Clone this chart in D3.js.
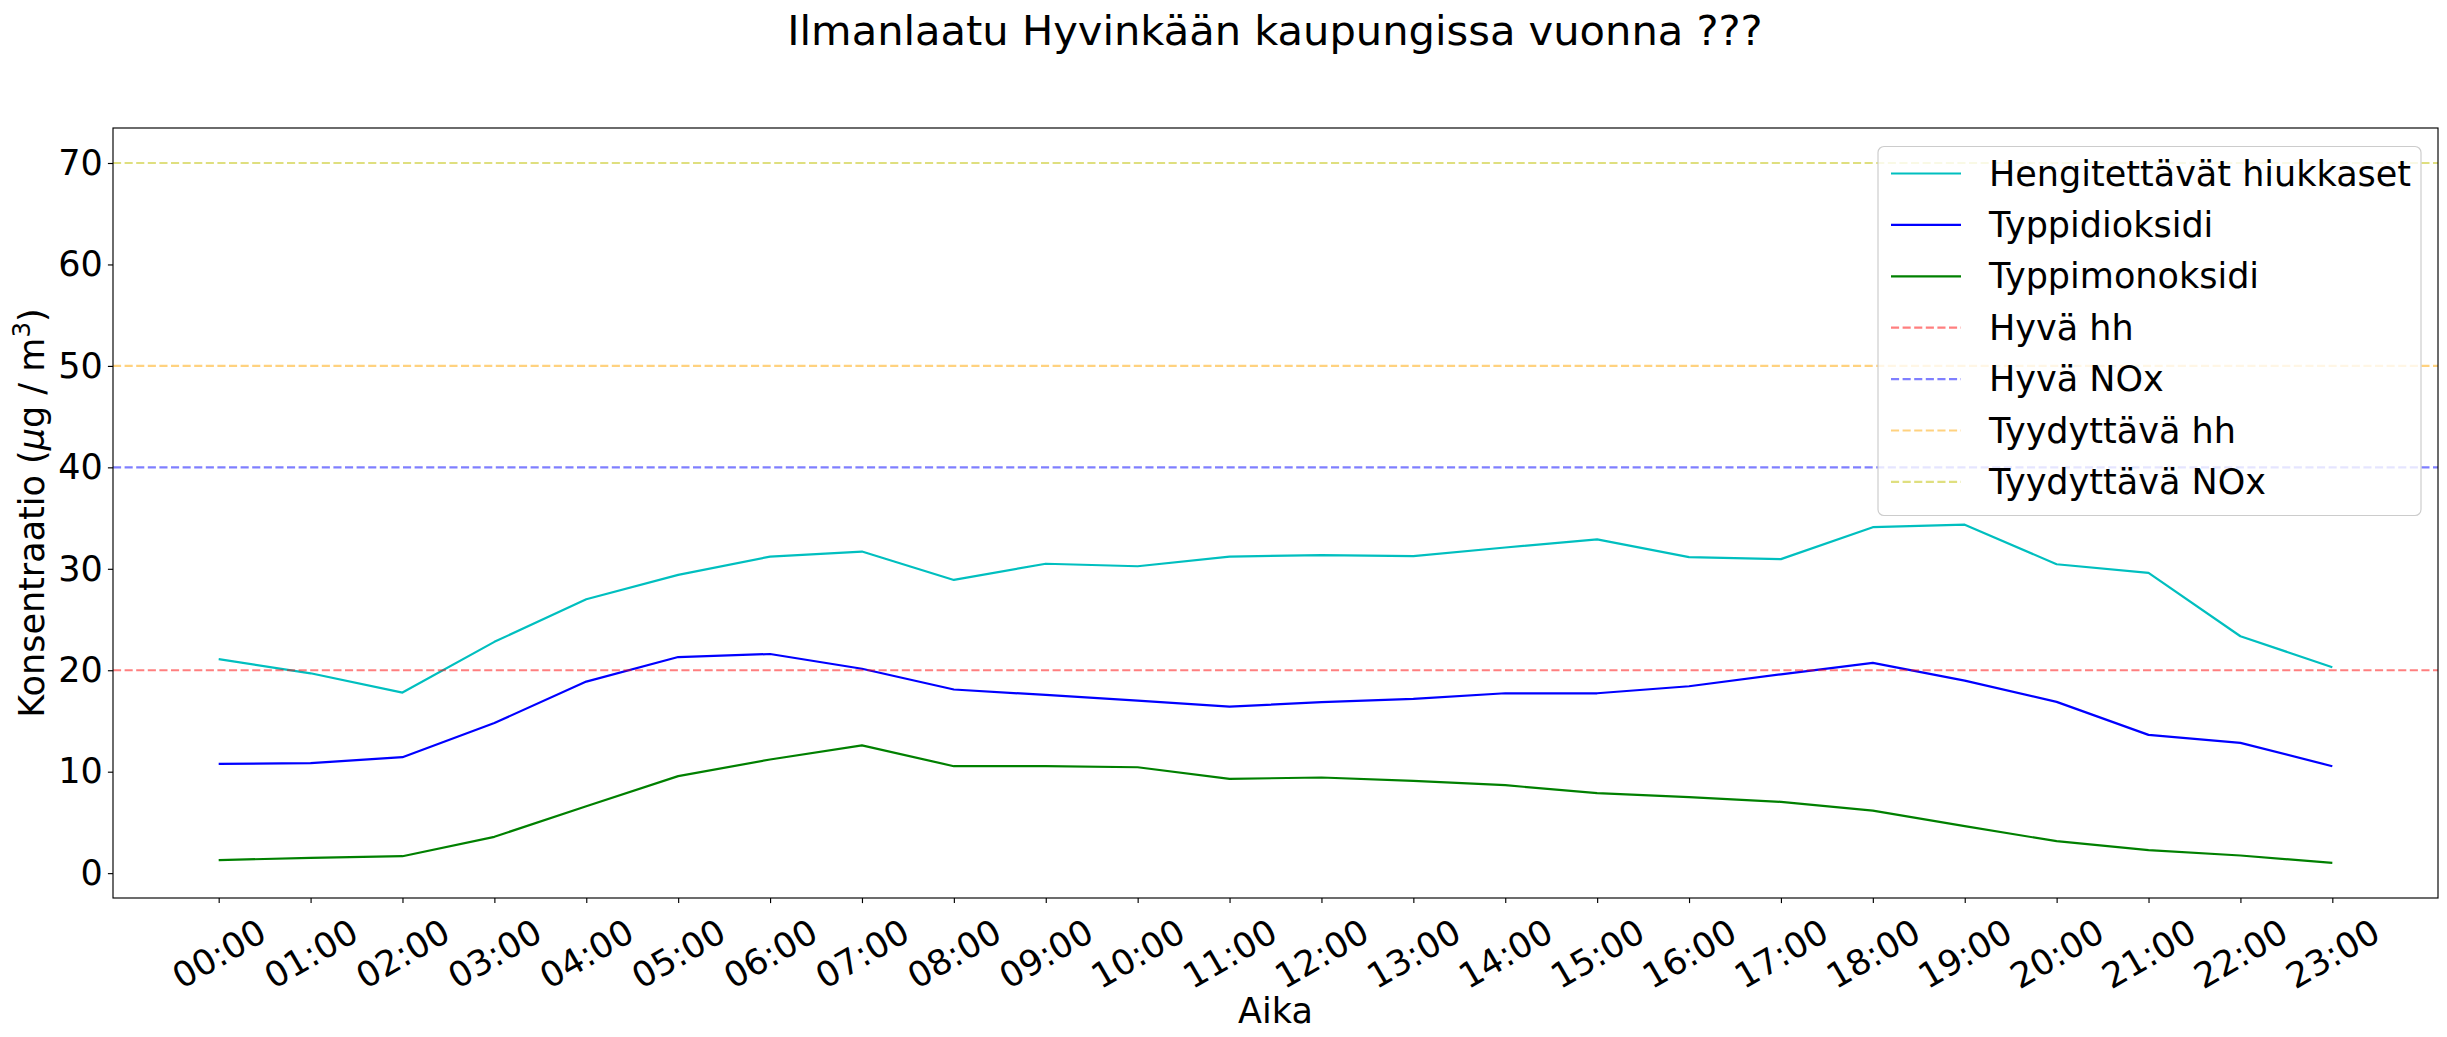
<!doctype html>
<html lang="fi">
<head>
<meta charset="utf-8">
<script src="https://d3js.org/d3.v7.min.js"></script>
<style>
  body { margin: 0; background: #fff; }
  svg text { font-family: "DejaVu Sans", sans-serif; fill: #000; }
</style>
</head>
<body>
<div id="chart"></div>
<script>

// tuntien nimet x-akselille
var hours = ["00:00", "01:00", "02:00", "03:00", "04:00", "05:00", "06:00", "07:00",
             "08:00", "09:00", "10:00", "11:00", "12:00", "13:00", "14:00", "15:00",
             "16:00", "17:00", "18:00", "19:00", "20:00", "21:00", "22:00", "23:00"];

// mittaukset (ug / m3), luettu kuvasta
var hiukkaset = [21.1, 19.7, 17.8, 22.8, 27.0, 29.4, 31.2, 31.7, 28.9, 30.5, 30.25, 31.2,
                 31.35, 31.25, 32.1, 32.9, 31.15, 30.95, 34.1, 34.35, 30.45, 29.6, 23.35, 20.3];
var typpidioksidi = [10.77, 10.84, 11.43, 14.8, 18.88, 21.3, 21.6, 20.15, 18.1, 17.57, 17.0, 16.42,
                     16.85, 17.18, 17.73, 17.73, 18.42, 19.6, 20.72, 18.98, 16.88, 13.63, 12.84, 10.54];
var typpimonoksidi = [1.28, 1.51, 1.67, 3.58, 6.6, 9.56, 11.2, 12.6, 10.54, 10.54, 10.44, 9.29,
                      9.43, 9.1, 8.67, 7.88, 7.49, 7.03, 6.17, 4.63, 3.15, 2.27, 1.74, 1.02];

var seriesNames = ["Hengitettävät hiukkaset", "Typpidioksidi", "Typpimonoksidi"];

// raja-arvot
var limitNames = ["Hyvä hh", "Hyvä NOx", "Tyydyttävä hh", "Tyydyttävä NOx"];
var limitValues = [20, 40, 50, 70];

var yTicks = [0, 10, 20, 30, 40, 50, 60, 70];

// tyylit
var seriesColors = ["#00bfbf", "#0000ff", "#008000"];
var limitColors = ["#ff0000", "#0000ff", "#ffa500", "#bfbf00"];

var W = 2447, H = 1037;
var margin = {top: 128, right: 9, bottom: 139, left: 113};
var fs = 35;        // akselien tekstit ja selite
var tick = 5.1, pad = 5.1;
var dash = "8.1,3.5";

var svg = d3.select("#chart").append("svg")
  .attr("width", W).attr("height", H);

var x = d3.scaleLinear().domain([-1.15, 24.15]).range([margin.left, W - margin.right]);
var y = d3.scaleLinear().domain([-2.45, 73.45]).range([H - margin.bottom, margin.top]);

// otsikko
svg.append("text")
  .attr("x", 1275).attr("y", 45)
  .attr("text-anchor", "middle")
  .style("font-size", "41.6px")
  .text("Ilmanlaatu Hyvinkään kaupungissa vuonna ???");

var plot = svg.append("g");

// viivat
var line = d3.line().x(function(d, i) { return x(i); }).y(function(d) { return y(d); });
[hiukkaset, typpidioksidi, typpimonoksidi].forEach(function(s, k) {
  plot.append("path")
    .datum(s)
    .attr("d", line)
    .attr("fill", "none")
    .attr("stroke", seriesColors[k])
    .attr("stroke-width", 2.2)
    .attr("stroke-linejoin", "round");
});

// vaakaviivat
limitValues.forEach(function(v, k) {
  plot.append("line")
    .attr("x1", x.range()[0]).attr("x2", x.range()[1])
    .attr("y1", y(v)).attr("y2", y(v))
    .attr("stroke", limitColors[k])
    .attr("stroke-opacity", 0.5)
    .attr("stroke-width", 2.2)
    .attr("stroke-dasharray", dash);
});

// akselit
var yAxis = d3.axisLeft(y).tickValues(yTicks).tickSize(tick).tickPadding(pad);
var gy = svg.append("g").attr("transform", "translate(" + margin.left + ",0)").call(yAxis);
gy.select(".domain").remove();
gy.selectAll("line").attr("stroke-width", 1.15);
gy.selectAll("text").style("font-size", fs + "px").attr("font-family", null);

var xAxis = d3.axisBottom(x).tickValues(d3.range(hours.length)).tickSize(tick)
  .tickFormat(function(i) { return hours[i]; });
var gx = svg.append("g").attr("transform", "translate(0," + (H - margin.bottom) + ")").call(xAxis);
gx.select(".domain").remove();
gx.selectAll("line").attr("stroke-width", 1.15);
gx.selectAll("text")
  .style("font-size", fs + "px").attr("font-family", null)
  .attr("dy", null).attr("y", 0)
  .attr("dominant-baseline", "central")
  .attr("text-anchor", "middle")
  .attr("transform", function() {
    var w = this.getComputedTextLength();
    var ext = w * 0.5 + fs * 1.164 * 0.866;
    return "translate(0," + (tick + pad + 3 + ext / 2) + ") rotate(-30)";
  });

// kehys
svg.append("rect")
  .attr("x", margin.left).attr("y", margin.top)
  .attr("width", W - margin.left - margin.right)
  .attr("height", H - margin.top - margin.bottom)
  .attr("fill", "none").attr("stroke", "#000").attr("stroke-width", 1.15);

// akselien nimet
svg.append("text")
  .attr("x", (x.range()[0] + x.range()[1]) / 2).attr("y", 1023)
  .attr("text-anchor", "middle")
  .style("font-size", fs + "px")
  .text("Aika");

var yl = svg.append("text")
  .attr("transform", "translate(44," + ((y.range()[0] + y.range()[1]) / 2) + ") rotate(-90)")
  .attr("text-anchor", "middle")
  .style("font-size", fs + "px");
yl.append("tspan").text("Konsentraatio (");
yl.append("tspan").style("font-style", "italic").text("μ");
yl.append("tspan").text("g / m");
yl.append("tspan").attr("dy", -14).style("font-size", (fs * 0.7) + "px").text("3");
yl.append("tspan").attr("dy", 14).text(")");

// selite
var lg = svg.append("g");
lg.append("rect")
  .attr("x", 1878).attr("y", 146.5)
  .attr("width", 543).attr("height", 369)
  .attr("rx", 6).attr("ry", 6)
  .attr("fill", "#fff").attr("fill-opacity", 0.8)
  .attr("stroke", "#cccccc").attr("stroke-width", 1.15);

var entries = seriesNames.map(function(n, k) { return {name: n, color: seriesColors[k], op: 1, dash: null}; })
  .concat(limitNames.map(function(n, k) { return {name: n, color: limitColors[k], op: 0.5, dash: dash}; }));

entries.forEach(function(e, k) {
  var yy = 173.5 + k * 51.4;
  lg.append("line")
    .attr("x1", 1891).attr("x2", 1961)
    .attr("y1", yy).attr("y2", yy)
    .attr("stroke", e.color).attr("stroke-opacity", e.op)
    .attr("stroke-width", 2.2)
    .attr("stroke-dasharray", e.dash);
  lg.append("text")
    .attr("x", 1989).attr("y", yy)
    .attr("dominant-baseline", "central")
    .style("font-size", fs + "px")
    .text(e.name);
});

</script>
</body>
</html>
